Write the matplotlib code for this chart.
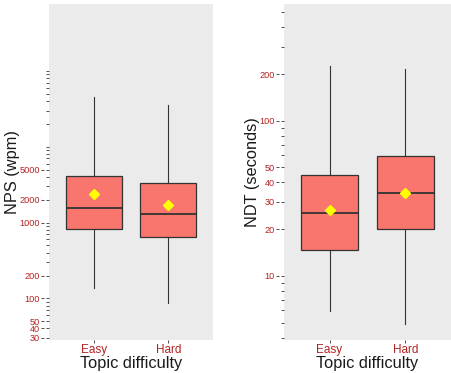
import matplotlib
matplotlib.use("Agg")
import matplotlib.pyplot as plt
from matplotlib.ticker import FixedLocator, NullFormatter

plt.rcParams['font.family'] = ['Liberation Sans', 'DejaVu Sans']

# Categories
difficulty = ["Easy", "Hard"]

# NPS (words per minute) summary statistics per difficulty
nps_q1 = [830, 643]
nps_median = [1566, 1306]
nps_q3 = [4170, 3343]
nps_whislo = [136, 85.5]
nps_whishi = [45600, 35800]
nps_mean = [2393, 1694]

# NDT (seconds) summary statistics per difficulty
ndt_q1 = [14.7, 20.1]
ndt_median = [25.5, 34.2]
ndt_q3 = [45.0, 58.9]
ndt_whislo = [5.95, 4.87]
ndt_whishi = [226, 216]
ndt_mean = [26.7, 34.4]

# Axis breaks
nps_breaks = [30, 40, 50, 100, 200, 1000, 2000, 5000]
ndt_breaks = [10, 20, 30, 40, 50, 100, 200]

FILL = "#F8766D"
EDGE = "#333333"
LABEL_RED = "#B22222"
PANEL_BG = "#EBEBEB"


def stats(q1, med, q3, lo, hi, mean):
    return [dict(q1=a, med=b, q3=c, whislo=d, whishi=e, mean=f, fliers=[], label=l)
            for a, b, c, d, e, f, l in zip(q1, med, q3, lo, hi, mean, difficulty)]


def draw_panel(ax, st, breaks, ylim, ylabel, top_tick, ylabelpad):
    ax.set_facecolor(PANEL_BG)
    ax.set_yscale("log")
    ax.bxp(st, positions=[1, 2], widths=0.75, showcaps=False, showmeans=True,
           showfliers=False, patch_artist=True,
           boxprops=dict(facecolor=FILL, edgecolor=EDGE, linewidth=0.9),
           medianprops=dict(color=EDGE, linewidth=1.3),
           whiskerprops=dict(color=EDGE, linewidth=0.8),
           meanprops=dict(marker="D", markerfacecolor="#FFFF00",
                          markeredgecolor="#FFFF00", markersize=4.6))
    ax.set_xlim(0.4, 2.6)
    ax.set_ylim(*ylim)

    # labelled breaks, drawn slightly away from the panel
    ax.yaxis.set_major_locator(FixedLocator(breaks))
    ax.set_yticklabels([str(b) for b in breaks])
    ax.yaxis.set_minor_locator(FixedLocator([]))
    ax.spines["left"].set_position(("outward", 3.5))
    ax.set_xticks([1, 2])
    ax.set_xticklabels(difficulty)
    for s in ax.spines.values():
        s.set_visible(False)
    ax.tick_params(axis="both", which="both", length=2.2, width=0.6, color=EDGE,
                   labelcolor=LABEL_RED, pad=1)
    ax.tick_params(axis="y", labelsize=6.6)
    ax.tick_params(axis="x", labelsize=8.5)
    ax.set_xlabel("Topic difficulty", fontsize=11.8, color="#1A1A1A", labelpad=0)
    ax.set_ylabel(ylabel, fontsize=11.8, color="#1A1A1A", labelpad=ylabelpad)

    # log ticks at 1..9 x 10^k hugging the panel edge
    logt = ax.twinx()
    logt.set_yscale("log")
    logt.set_ylim(*ylim)
    logt.yaxis.tick_left()
    marks = [k * 10 ** j for j in range(0, 6) for k in range(1, 10)
             if ylim[0] <= k * 10 ** j <= top_tick]
    logt.yaxis.set_major_locator(FixedLocator(marks))
    logt.yaxis.set_major_formatter(NullFormatter())
    logt.yaxis.set_minor_locator(FixedLocator([]))
    for s in logt.spines.values():
        s.set_visible(False)
    logt.tick_params(axis="y", which="both", length=2.0, width=0.6, color=EDGE)


fig = plt.figure(figsize=(4.51, 3.73), dpi=100)
ax1 = fig.add_axes([49 / 451, 33 / 373, 164 / 451, 336 / 373])
ax2 = fig.add_axes([284 / 451, 33 / 373, 167 / 451, 336 / 373])

draw_panel(ax1, stats(nps_q1, nps_median, nps_q3, nps_whislo, nps_whishi, nps_mean),
           nps_breaks, (28.2, 764000), "NPS (wpm)", 1e5, -0.3)
draw_panel(ax2, stats(ndt_q1, ndt_median, ndt_q3, ndt_whislo, ndt_whishi, ndt_mean),
           ndt_breaks, (3.86, 566), "NDT (seconds)", 566, -0.3)

fig.savefig("out.png", dpi=100)
